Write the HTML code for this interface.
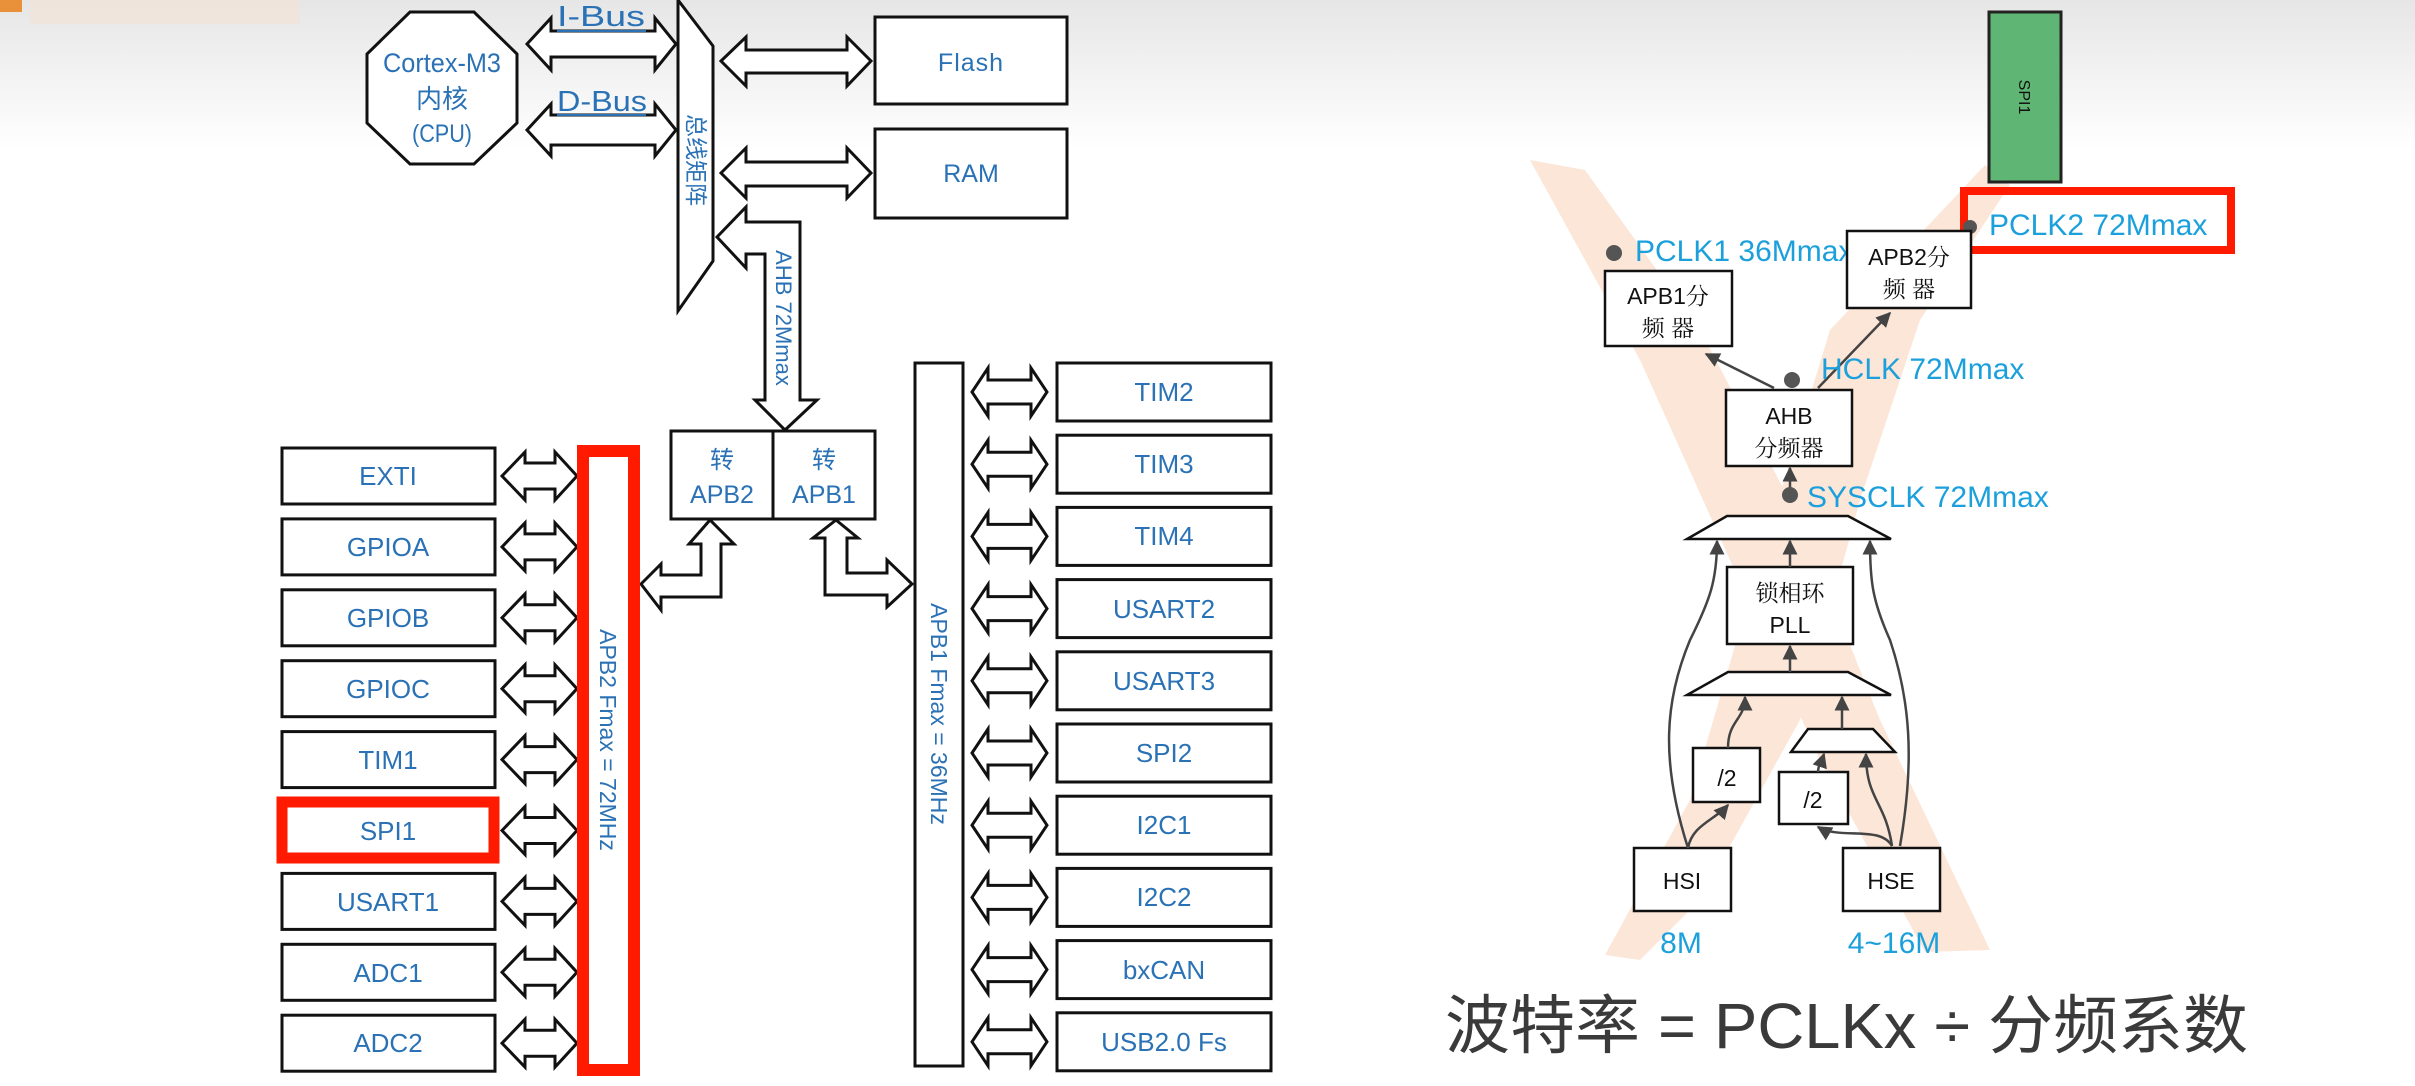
<!DOCTYPE html>
<html><head><meta charset="utf-8"><style>
html,body{margin:0;padding:0;background:#fff;}
svg{display:block;}
.b{font-family:"Liberation Sans Narrow","Liberation Sans","Noto Sans CJK SC",sans-serif;fill:#2a72b5;}
.r{font-family:"Liberation Sans","Noto Serif CJK SC",serif;fill:#111;}
.c{font-family:"Liberation Sans","Noto Sans CJK SC",sans-serif;fill:#1ca0dc;}
</style></head><body>
<svg width="2415" height="1086" viewBox="0 0 2415 1086" xmlns="http://www.w3.org/2000/svg">
<defs>
<linearGradient id="tg" x1="0" y1="0" x2="0" y2="1">
<stop offset="0" stop-color="#e6e6e6"/><stop offset="1" stop-color="#ffffff"/></linearGradient>
<marker id="ah" viewBox="0 0 10 10" refX="9" refY="5" markerWidth="6" markerHeight="6" orient="auto"><path d="M0,0 L10,5 L0,10 z" fill="#444"/></marker>
</defs>
<rect x="0" y="0" width="2415" height="150" fill="url(#tg)"/>
<rect x="0" y="0" width="22" height="12" fill="#e8903a"/>
<rect x="30" y="0" width="270" height="24" fill="#f1e4d8" opacity="0.8"/>

<!-- Cortex -->
<polygon points="410,12 474,12 517,54 517,123 474,164 410,164 367,123 367,54" fill="#fff" stroke="#111" stroke-width="3"/>
<text class="b" x="442" y="72" font-size="27" text-anchor="middle" textLength="118" lengthAdjust="spacingAndGlyphs">Cortex-M3</text>
<text class="b" x="442" y="108" font-size="26" text-anchor="middle">内核</text>
<text class="b" x="442" y="142" font-size="25" text-anchor="middle" textLength="60" lengthAdjust="spacingAndGlyphs">(CPU)</text>

<g fill="#fff" stroke="#111" stroke-width="3">
<polygon points="527,44 551,18 551,31 655,31 655,18 676,44 655,70 655,57 551,57 551,70"/>
<polygon points="527,130 551,104 551,115 655,115 655,104 676,130 655,156 655,145 551,145 551,156"/>
<polygon points="678,0 713,46 713,261 678,311"/>
<polygon points="721,61 746,37 746,50 847,50 847,37 871,61 847,86 847,73 746,73 746,86"/>
<polygon points="721,173 746,148 746,162 847,162 847,148 871,173 847,198 847,186 746,186 746,198"/>
<rect x="875" y="17" width="192" height="87"/>
<rect x="875" y="129" width="192" height="89"/>
<polygon points="717,237 746,207 746,222 800,222 800,400 817,400 785,430 755,400 765,400 765,254 746,254 746,268"/>
<rect x="671" y="431" width="204" height="88"/>
<line x1="773" y1="431" x2="773" y2="519"/>
<polygon points="641,584 661,564 661,575 701,575 701,544 689,544 710,520 734,544 721,544 721,597 661,597 661,610"/>
<polygon points="912,584 887,560 887,573 847,573 847,538 858,538 836,520 813,538 825,538 825,595 887,595 887,607"/>
<rect x="915" y="363" width="48" height="703"/>
</g>
<text class="b" x="695" y="160" font-size="23" text-anchor="middle" transform="rotate(90 695 160)" dy="7">总线矩阵</text>
<text class="b" x="557" y="26" font-size="29" textLength="88" lengthAdjust="spacingAndGlyphs">I-Bus</text>
<line x1="557" y1="31" x2="646" y2="31" stroke="#2a72b5" stroke-width="2"/>
<text class="b" x="557" y="111" font-size="29" textLength="90" lengthAdjust="spacingAndGlyphs">D-Bus</text>
<line x1="557" y1="115" x2="646" y2="115" stroke="#2a72b5" stroke-width="2"/>
<text class="b" x="971" y="71" font-size="25" text-anchor="middle" letter-spacing="1">Flash</text>
<text class="b" x="971" y="182" font-size="25" text-anchor="middle">RAM</text>
<text class="c" x="784" y="318" font-size="22" text-anchor="middle" transform="rotate(90 784 318)" dy="8" style="fill:#2a72b5">AHB 72Mmax</text>
<text class="b" x="722" y="468" font-size="24" text-anchor="middle">转</text>
<text class="b" x="722" y="503" font-size="25" text-anchor="middle">APB2</text>
<text class="b" x="824" y="468" font-size="24" text-anchor="middle">转</text>
<text class="b" x="824" y="503" font-size="25" text-anchor="middle">APB1</text>
<text class="b" x="939" y="714" font-size="23" text-anchor="middle" transform="rotate(90 939 714)" dy="8">APB1 Fmax = 36MHz</text>

<g fill="#fff" stroke="#111" stroke-width="3">
<g id="rrow">
<polygon points="972,392 988,368 988,380 1031,380 1031,368 1047,392 1031,416 1031,404 988,404 988,416"/>
<rect x="1057" y="363" width="214" height="58"/>
</g>
<use href="#rrow" y="72.2"/><use href="#rrow" y="144.4"/><use href="#rrow" y="216.6"/><use href="#rrow" y="288.8"/>
<use href="#rrow" y="361"/><use href="#rrow" y="433.2"/><use href="#rrow" y="505.4"/><use href="#rrow" y="577.6"/><use href="#rrow" y="649.8"/>
</g>
<g class="b" font-size="26" text-anchor="middle">
<text x="1164" y="401">TIM2</text><text x="1164" y="473">TIM3</text><text x="1164" y="545">TIM4</text>
<text x="1164" y="618">USART2</text><text x="1164" y="690">USART3</text><text x="1164" y="762">SPI2</text>
<text x="1164" y="834">I2C1</text><text x="1164" y="906">I2C2</text><text x="1164" y="979">bxCAN</text>
<text x="1164" y="1051">USB2.0 Fs</text>
</g>

<g fill="#fff" stroke="#111" stroke-width="3">
<g id="lrow">
<polygon points="502,476 525,452 525,463 555,463 555,452 577,476 555,500 555,489 525,489 525,500"/>
<rect x="282" y="448" width="213" height="56"/>
</g>
<use href="#lrow" y="70.9"/><use href="#lrow" y="141.8"/><use href="#lrow" y="212.7"/><use href="#lrow" y="283.6"/>
<use href="#lrow" y="354.5"/><use href="#lrow" y="425.4"/><use href="#lrow" y="496.3"/><use href="#lrow" y="567.2"/>
</g>
<rect x="282" y="802" width="212" height="56" fill="none" stroke="#ff1a00" stroke-width="11"/>
<rect x="583" y="451" width="51" height="619" fill="none" stroke="#ff1a00" stroke-width="12"/>
<g class="b" font-size="26" text-anchor="middle">
<text x="388" y="485">EXTI</text><text x="388" y="556">GPIOA</text><text x="388" y="627">GPIOB</text>
<text x="388" y="698">GPIOC</text><text x="388" y="769">TIM1</text><text x="388" y="840">SPI1</text>
<text x="388" y="911">USART1</text><text x="388" y="982">ADC1</text><text x="388" y="1052">ADC2</text>
</g>
<text class="b" x="608" y="740" font-size="23" text-anchor="middle" transform="rotate(90 608 740)" dy="8">APB2 Fmax = 72MHz</text>

<polygon points="1530,160 1585,170 1700,330 1800,520 1880,720 1990,950 1925,952 1820,760 1730,560 1640,360" fill="#fce6d8"/>
<polygon points="1985,165 2010,185 1920,320 1860,500 1800,720 1700,900 1640,960 1605,955 1690,800 1760,560 1830,330" fill="#fce6d8"/>
<rect x="1989" y="12" width="72" height="170" fill="#5fb573" stroke="#222" stroke-width="3"/>
<text x="2025" y="97" font-size="16" font-family="Liberation Sans,sans-serif" fill="#111" text-anchor="middle" transform="rotate(90 2025 97)" dy="6">SPI1</text>
<rect x="1964" y="191" width="267" height="59" fill="none" stroke="#ff1a00" stroke-width="8"/>
<circle cx="1970" cy="227" r="7" fill="#555"/>
<text class="c" x="1989" y="235" font-size="30">PCLK2 72Mmax</text>
<circle cx="1614" cy="253" r="8" fill="#555"/>
<text class="c" x="1635" y="261" font-size="30">PCLK1 36Mmax</text>

<g fill="#fff" stroke="#111" stroke-width="2.5">
<rect x="1605" y="271" width="127" height="75"/>
<rect x="1847" y="231" width="124" height="77"/>
<rect x="1726" y="390" width="126" height="76"/>
<rect x="1727" y="567" width="126" height="77"/>
<rect x="1693" y="748" width="67" height="54"/>
<rect x="1779" y="772" width="69" height="52"/>
<rect x="1634" y="848" width="97" height="63"/>
<rect x="1843" y="848" width="97" height="63"/>
<polygon points="1687,539 1891,539 1848,516 1727,516"/>
<polygon points="1687,695 1891,695 1848,672 1728,672"/>
<polygon points="1791,752 1895,752 1873,729 1808,729"/>
</g>
<g stroke="#444" stroke-width="2.5" fill="none" marker-end="url(#ah)">
<line x1="1774" y1="388" x2="1706" y2="354"/>
<line x1="1818" y1="388" x2="1890" y2="313"/>
<line x1="1790" y1="495" x2="1790" y2="468"/>
<line x1="1790" y1="567" x2="1790" y2="541"/>
<line x1="1790" y1="672" x2="1790" y2="646"/>
<line x1="1842" y1="729" x2="1842" y2="697"/>
<path d="M1688,848 C1692,825 1715,820 1728,805"/>
<path d="M1728,748 C1728,720 1745,720 1745,697"/>
<path d="M1688,848 C1660,760 1665,700 1690,640 C1710,600 1717,580 1717,541"/>
<path d="M1892,846 C1880,825 1840,840 1818,827"/>
<path d="M1892,846 C1885,800 1866,800 1866,754"/>
<path d="M1818,772 C1818,765 1822,760 1824,754"/>
<path d="M1900,846 C1915,760 1910,700 1890,640 C1872,600 1870,580 1870,541"/>
</g>
<circle cx="1792" cy="380" r="8" fill="#555"/>
<circle cx="1790" cy="495" r="8" fill="#555"/>
<text class="c" x="1821" y="379" font-size="30">HCLK 72Mmax</text>
<text class="c" x="1807" y="507" font-size="30">SYSCLK 72Mmax</text>
<g class="r" text-anchor="middle" font-size="23">
<text x="1668" y="304">APB1分</text><text x="1668" y="336">频 器</text>
<text x="1909" y="265">APB2分</text><text x="1909" y="297">频 器</text>
<text x="1789" y="424">AHB</text><text x="1789" y="456">分频器</text>
<text x="1790" y="601">锁相环</text><text x="1790" y="633">PLL</text>
<text x="1727" y="786">/2</text><text x="1813" y="808">/2</text>
<text x="1682" y="889">HSI</text><text x="1891" y="889">HSE</text>
</g>
<text class="c" x="1681" y="953" font-size="30" text-anchor="middle">8M</text>
<text class="c" x="1894" y="953" font-size="30" text-anchor="middle">4~16M</text>
<text x="1445" y="1048" font-size="64" fill="#3a3a3a" font-family="Liberation Sans,Noto Sans CJK SC,sans-serif" textLength="803" lengthAdjust="spacingAndGlyphs">波特率 = PCLKx ÷ 分频系数</text>
</svg>
</body></html>
